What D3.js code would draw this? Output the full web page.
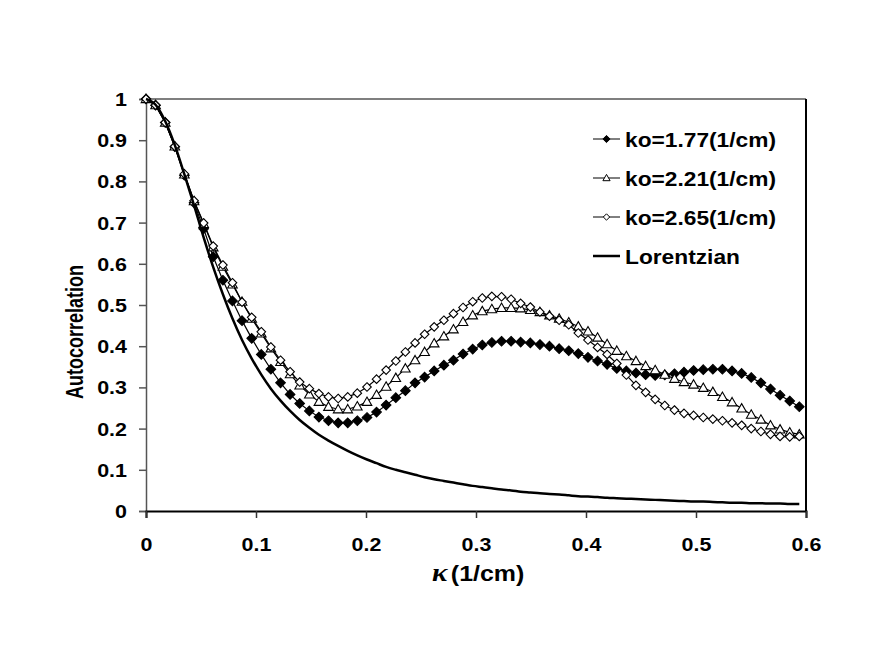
<!DOCTYPE html>
<html lang="en">
<head>
    <meta charset="UTF-8">
    <script src="https://d3js.org/d3.v7.min.js"></script>
    <title>Autocorrelation</title>
    <style>
        body { margin: 0; background: #fff; }
        text { font-family: "Liberation Sans", Arial, sans-serif; font-weight: bold; fill: #000; }
    </style>
</head>
<body>
<div id="viz"></div>
<script>
    // sample points along kappa (1/cm)
    const kappa = [
        0, 0.0087, 0.0175, 0.0262, 0.0349, 0.0437, 0.0524, 0.0611, 0.0699, 0.0786,
        0.0873, 0.0961, 0.1048, 0.1135, 0.1223, 0.1310, 0.1397, 0.1485, 0.1572, 0.1659,
        0.1747, 0.1834, 0.1921, 0.2009, 0.2096, 0.2183, 0.2271, 0.2358, 0.2446, 0.2533,
        0.2620, 0.2708, 0.2795, 0.2882, 0.2970, 0.3057, 0.3144, 0.3232, 0.3319, 0.3406,
        0.3494, 0.3581, 0.3668, 0.3756, 0.3843, 0.3930, 0.4018, 0.4105, 0.4192, 0.4280,
        0.4367, 0.4454, 0.4542, 0.4629, 0.4716, 0.4804, 0.4891, 0.4978, 0.5066, 0.5153,
        0.5240, 0.5328, 0.5415, 0.5502, 0.5590, 0.5677, 0.5764, 0.5852, 0.5939
    ];

    // ko = 1.77 (1/cm)
    const ko177 = [
        1.000, 0.985, 0.943, 0.884, 0.815, 0.748, 0.685, 0.617, 0.560, 0.510,
        0.462, 0.419, 0.380, 0.344, 0.311, 0.283, 0.261, 0.243, 0.228, 0.219,
        0.214, 0.214, 0.219, 0.227, 0.240, 0.257, 0.275, 0.292, 0.311, 0.325,
        0.340, 0.354, 0.366, 0.381, 0.393, 0.403, 0.409, 0.412, 0.412, 0.410,
        0.408, 0.404, 0.400, 0.394, 0.389, 0.382, 0.373, 0.364, 0.356, 0.346,
        0.340, 0.335, 0.331, 0.329, 0.330, 0.333, 0.337, 0.341, 0.343, 0.344,
        0.344, 0.340, 0.334, 0.324, 0.311, 0.296, 0.281, 0.267, 0.253
    ];

    // ko = 2.21 (1/cm)
    const ko221 = [
        1.000, 0.985, 0.943, 0.885, 0.817, 0.752, 0.697, 0.640, 0.593, 0.550,
        0.508, 0.467, 0.431, 0.395, 0.362, 0.332, 0.305, 0.283, 0.265, 0.253,
        0.247, 0.247, 0.254, 0.265, 0.282, 0.302, 0.323, 0.346, 0.366, 0.386,
        0.407, 0.424, 0.441, 0.459, 0.475, 0.485, 0.490, 0.493, 0.493, 0.492,
        0.488, 0.483, 0.475, 0.467, 0.458, 0.448, 0.436, 0.421, 0.405, 0.389,
        0.376, 0.364, 0.352, 0.342, 0.331, 0.321, 0.313, 0.307, 0.299, 0.289,
        0.277, 0.264, 0.249, 0.234, 0.222, 0.208, 0.198, 0.191, 0.186
    ];

    // ko = 2.65 (1/cm)
    const ko265 = [
        1.000, 0.985, 0.943, 0.885, 0.818, 0.753, 0.699, 0.643, 0.597, 0.554,
        0.507, 0.470, 0.435, 0.398, 0.366, 0.338, 0.313, 0.297, 0.285, 0.277,
        0.273, 0.277, 0.286, 0.301, 0.320, 0.342, 0.364, 0.386, 0.408, 0.429,
        0.447, 0.463, 0.479, 0.494, 0.508, 0.517, 0.521, 0.520, 0.514, 0.504,
        0.495, 0.483, 0.473, 0.463, 0.452, 0.432, 0.415, 0.397, 0.380, 0.358,
        0.330, 0.305, 0.288, 0.271, 0.256, 0.245, 0.237, 0.232, 0.227, 0.223,
        0.219, 0.214, 0.208, 0.200, 0.193, 0.186, 0.181, 0.180, 0.181
    ];

    // Lorentzian reference curve
    const lorentz = [
        1.000, 0.986, 0.946, 0.888, 0.817, 0.742, 0.664, 0.592, 0.526, 0.467,
        0.415, 0.370, 0.331, 0.297, 0.268, 0.243, 0.221, 0.202, 0.185, 0.171,
        0.158, 0.146, 0.135, 0.125, 0.116, 0.107, 0.100, 0.094, 0.088, 0.082,
        0.077, 0.073, 0.069, 0.065, 0.061, 0.058, 0.055, 0.052, 0.050, 0.047,
        0.045, 0.043, 0.041, 0.040, 0.038, 0.036, 0.035, 0.034, 0.032, 0.031,
        0.030, 0.029, 0.028, 0.027, 0.026, 0.025, 0.024, 0.023, 0.023, 0.022,
        0.021, 0.020, 0.020, 0.019, 0.019, 0.018, 0.018, 0.017, 0.017
    ];

    const xTicks = [0, 0.1, 0.2, 0.3, 0.4, 0.5, 0.6];
    const yTicks = [0, 0.1, 0.2, 0.3, 0.4, 0.5, 0.6, 0.7, 0.8, 0.9, 1];
    const seriesNames = ["ko=1.77(1/cm)", "ko=2.21(1/cm)", "ko=2.65(1/cm)", "Lorentzian"];

    const margin = {top: 99, right: 73, bottom: 161, left: 146},
        W = 879, H = 672,
        width = W - margin.left - margin.right,
        height = H - margin.top - margin.bottom;

    const stretch = 1.16; // the original text is a little wide

    const svg = d3.select("#viz")
        .append("svg")
        .attr("width", W)
        .attr("height", H);

    const g = svg.append("g")
        .attr("transform", `translate(${margin.left}, ${margin.top})`);

    const x = d3.scaleLinear().domain([0, 0.6]).range([0, width]);
    const y = d3.scaleLinear().domain([0, 1]).range([height, 0]);

    // marker shapes
    const diamond = s => `M0,${-s}L${s},0L0,${s}L${-s},0Z`;
    const triangle = s => `M0,${-s}L${s},${s * 0.75}L${-s},${s * 0.75}Z`;

    const series = [
        {name: seriesNames[0], values: ko177, path: diamond(4.8), small: diamond(3.6), fill: "#000"},
        {name: seriesNames[1], values: ko221, path: triangle(4.8), small: triangle(3.6), fill: "#fff"},
        {name: seriesNames[2], values: ko265, path: diamond(4.3), small: diamond(3.2), fill: "#fff"}
    ];

    // axes
    const yAxis = g.append("g")
        .call(d3.axisLeft(y).tickValues(yTicks).tickSize(7).tickFormat(d3.format("")));
    yAxis.select(".domain").attr("stroke", "#555").attr("stroke-width", 1.5);
    yAxis.selectAll(".tick line").attr("stroke", "#555").attr("stroke-width", 1.5);
    yAxis.selectAll(".tick text")
        .attr("x", null)
        .attr("dy", null)
        .attr("transform", `translate(-19, 6.5) scale(${stretch}, 1)`)
        .style("font-size", "18.5px");

    const xAxis = g.append("g")
        .attr("transform", `translate(0, ${height})`)
        .call(d3.axisBottom(x).tickValues(xTicks).tickSize(7).tickFormat(d3.format("")));
    xAxis.select(".domain").attr("stroke", "#000").attr("stroke-width", 2);
    xAxis.selectAll(".tick line").attr("stroke", "#333").attr("stroke-width", 1.5);
    xAxis.selectAll(".tick text")
        .attr("y", null)
        .attr("dy", null)
        .attr("transform", `translate(0, 39.5) scale(${stretch}, 1)`)
        .style("font-size", "18.5px");

    // plot border top and right
    g.append("line").attr("x1", 0).attr("x2", width).attr("y1", 0).attr("y2", 0)
        .attr("stroke", "#555").attr("stroke-width", 1.5);
    g.append("line").attr("x1", width).attr("x2", width).attr("y1", 0).attr("y2", height)
        .attr("stroke", "#000").attr("stroke-width", 2);

    const line = d3.line()
        .x((d, i) => x(kappa[i]))
        .y(d => y(d));

    // data series with markers
    series.forEach(s => {
        g.append("path")
            .datum(s.values)
            .attr("fill", "none")
            .attr("stroke", "#000")
            .attr("stroke-width", 1.2)
            .attr("d", line);
        g.selectAll(null)
            .data(s.values)
            .join("path")
            .attr("transform", (d, i) => `translate(${x(kappa[i])}, ${y(d)})`)
            .attr("d", s.path)
            .attr("fill", s.fill)
            .attr("stroke", "#000")
            .attr("stroke-width", 1.1);
    });

    g.append("path")
        .datum(lorentz)
        .attr("fill", "none")
        .attr("stroke", "#000")
        .attr("stroke-width", 2.5)
        .attr("d", line.curve(d3.curveMonotoneX));

    // axis titles
    svg.append("text")
        .attr("transform", `translate(83, 332) rotate(-90) scale(1, 1.3)`)
        .attr("text-anchor", "middle")
        .style("font-size", "18px")
        .text("Autocorrelation");

    const xt = svg.append("text")
        .attr("transform", `translate(432, 581) scale(${stretch}, 1)`)
        .style("font-size", "21.5px");
    xt.append("tspan")
        .style("font-family", "'Liberation Serif', 'DejaVu Serif', serif")
        .style("font-style", "italic")
        .style("font-size", "25px")
        .text("\u03BA");
    xt.append("tspan").attr("dx", 3).text("(1/cm)");

    // legend
    const legend = svg.append("g").attr("transform", "translate(593, 139)");
    seriesNames.forEach((name, i) => {
        const row = legend.append("g").attr("transform", `translate(0, ${i * 39})`);
        row.append("line").attr("x1", 0).attr("x2", 27).attr("y1", 0).attr("y2", 0)
            .attr("stroke", "#000").attr("stroke-width", i === 3 ? 2.5 : 1);
        if (i < 3) {
            row.append("path")
                .attr("transform", "translate(13.5, 0)")
                .attr("d", series[i].small)
                .attr("fill", series[i].fill)
                .attr("stroke", "#000")
                .attr("stroke-width", 1);
        }
        row.append("text")
            .attr("transform", `translate(32, 7.5) scale(${stretch * 0.98}, 1)`)
            .style("font-size", "20px")
            .text(name);
    });
</script>
</body>
</html>
